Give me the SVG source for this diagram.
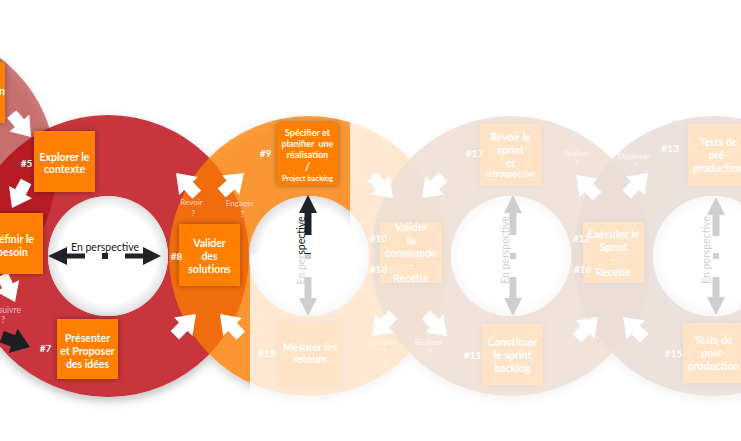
<svg xmlns="http://www.w3.org/2000/svg" xmlns:xlink="http://www.w3.org/1999/xlink" width="741" height="441" viewBox="0 0 741 441">
<defs>
<style>
.box{fill:#ff8000;filter:url(#bs)}
.bt{font-family:Lato,"Open Sans",sans-serif;font-weight:700;fill:#fff;font-size:10.5px;text-anchor:middle}
.num{font-family:Lato,"Open Sans",sans-serif;font-weight:700;fill:#fff;font-size:10px;text-anchor:middle}
.q{font-family:Lato,"Open Sans",sans-serif;font-size:8px;fill:#fbd3d0;text-anchor:middle}
.persp{font-family:Lato,"Open Sans",sans-serif;font-size:10.5px;fill:#15171a;text-anchor:middle}
.wa{fill:#fff}
.ba{fill:#1c1e22}
.pa{fill:#1f2226}
.hole{fill:url(#hg)}
</style>
<filter id="bs" x="-30%" y="-30%" width="160%" height="160%">
<feDropShadow dx="0" dy="0" stdDeviation="3" flood-color="#000" flood-opacity="0.35"/>
</filter>
<filter id="rs" x="-20%" y="-20%" width="140%" height="140%">
<feDropShadow dx="0" dy="4" stdDeviation="5" flood-color="#000" flood-opacity="0.25"/>
</filter>
<radialGradient id="hg" cx="50%" cy="50%" r="50%">
<stop offset="0" stop-color="#fff"/>
<stop offset="0.8" stop-color="#fff"/>
<stop offset="1" stop-color="#e0e0e0"/>
</radialGradient>
<path id="wa" d="M0,0 L-18,-13 L-18,-6 L-30,-6 L-30,6 L-18,6 L-18,13 Z"/>
</defs>

<g id="rings" filter="url(#rs)">
<path id="ring1" fill="#c8363c" fill-rule="evenodd" d="M-33,256 a141,141 0 1,0 282,0 a141,141 0 1,0 -282,0 Z M48,256 a60,60 0 1,1 120,0 a60,60 0 1,1 -120,0 Z"/>
<path id="ring0" fill="#a5000c" fill-opacity="0.5" fill-rule="evenodd" d="M-224,170 a140,140 0 1,0 280,0 a140,140 0 1,0 -280,0 Z M-144,170 a60,60 0 1,1 120,0 a60,60 0 1,1 -120,0 Z"/>
<path id="ring2" fill="#ff7f00" fill-opacity="0.75" fill-rule="evenodd" d="M169,256 a140,140 0 1,0 280,0 a140,140 0 1,0 -280,0 Z M249,256 a60,60 0 1,1 120,0 a60,60 0 1,1 -120,0 Z"/>
<path id="ring3" fill="rgb(180,110,60)" fill-opacity="0.85" fill-rule="evenodd" d="M371,256 a140,140 0 1,0 280,0 a140,140 0 1,0 -280,0 Z M451,256 a60,60 0 1,1 120,0 a60,60 0 1,1 -120,0 Z"/>
<path id="ring4" fill="rgb(160,100,75)" fill-opacity="0.85" fill-rule="evenodd" d="M573,256 a140,140 0 1,0 280,0 a140,140 0 1,0 -280,0 Z M653,256 a60,60 0 1,1 120,0 a60,60 0 1,1 -120,0 Z"/>
</g>
<g id="holes">
<circle class="hole" cx="108" cy="256" r="60"/>
<circle class="hole" cx="309" cy="256" r="60"/>
<circle class="hole" cx="511" cy="256" r="60"/>
<circle class="hole" cx="713" cy="256" r="60"/>
</g>

<g id="connectors">
<use href="#wa" class="wa" transform="translate(31,137) rotate(50)"/>
<use href="#wa" class="wa" transform="translate(12,208) rotate(118)"/>
<use href="#wa" class="wa" transform="translate(15,302) rotate(65)"/>
<use href="#wa" class="ba" transform="translate(30,347) rotate(20)"/>
<use href="#wa" class="wa" transform="translate(176,173) rotate(-134)"/>
<use href="#wa" class="wa" transform="translate(244,173) rotate(-42)"/>
<use href="#wa" class="wa" transform="translate(196,314) rotate(-45)"/>
<use href="#wa" class="wa" transform="translate(220,314) rotate(-134)"/>
<use href="#wa" class="wa" transform="translate(393,198) rotate(45)"/>
<use href="#wa" class="wa" transform="translate(422,198) rotate(135)"/>
<use href="#wa" class="wa" transform="translate(372,336) rotate(135)"/>
<use href="#wa" class="wa" transform="translate(447,336) rotate(45)"/>
<use href="#wa" class="wa" transform="translate(576,175) rotate(-135)"/>
<use href="#wa" class="wa" transform="translate(648,173) rotate(-45)"/>
<use href="#wa" class="wa" transform="translate(598,317) rotate(-45)"/>
<use href="#wa" class="wa" transform="translate(623,317) rotate(-135)"/>
<g id="persp1" class="pa">
<polygon points="48,256 67,247 67,265"/>
<rect x="67" y="253.5" width="18" height="5"/>
<rect x="102" y="253" width="6" height="6"/>
<rect x="125" y="253.5" width="18" height="5"/>
<polygon points="161,256 143,247 143,265"/>
</g>
<g id="persp2" class="pa">
<polygon points="308,195 299,213 317,213"/>
<rect x="304.5" y="213" width="7" height="22"/>
<rect x="305" y="253" width="6" height="6"/>
<rect x="304.5" y="277" width="7" height="21"/>
<polygon points="308,316 299,298 317,298"/>
</g>
<g id="persp3" class="pa">
<polygon points="513,195 504,213 522,213"/>
<rect x="509.5" y="213" width="7" height="22"/>
<rect x="510" y="253" width="6" height="6"/>
<rect x="509.5" y="277" width="7" height="21"/>
<polygon points="513,316 504,298 522,298"/>
</g>
<g id="persp4" class="pa">
<polygon points="716,197 707,215 725,215"/>
<rect x="712.5" y="215" width="7" height="21"/>
<rect x="713" y="253" width="6" height="6"/>
<rect x="712.5" y="277" width="7" height="20"/>
<polygon points="716,315 707,297 725,297"/>
</g>
</g>

<g id="persp-labels">
<text class="persp" x="105" y="250.5">En perspective</text>
<text class="persp" x="305" y="250.5" transform="rotate(-90 305 250.5)">En perspective</text>
<text class="persp" x="509" y="250" transform="rotate(-90 509 250)">En perspective</text>
<text class="persp" x="710" y="250" transform="rotate(-90 710 250)">En perspective</text>
</g>

<g id="questions">
<text class="q" x="1" y="313" style="font-size:8.5px;fill:#f2b6d4">Poursuivre</text>
<text class="q" x="3" y="323" style="font-size:9px;fill:#f2b6d4">?</text>
<text class="q" x="191.5" y="205">Revoir</text><text class="q" x="193" y="216">?</text>
<text class="q" x="240" y="206">Engager</text><text class="q" x="242" y="217">?</text>
<text class="q" x="383" y="345">Délivrer</text><text class="q" x="384" y="355">?</text>
<text class="q" x="428.5" y="345">Réaliser</text><text class="q" x="430" y="355">?</text>
<text class="q" x="577" y="156">Réaliser</text><text class="q" x="577" y="166">?</text>
<text class="q" x="634" y="159">Déployer</text><text class="q" x="636" y="169">?</text>
</g>

<g id="node-prev">
<rect class="box" x="-56" y="62" width="61" height="61"/>
<text class="bt" x="-1" y="95" style="text-anchor:start">n</text>
</g>
<g id="node-5">
<rect class="box" x="34" y="131" width="61" height="61"/>
<text class="bt" x="64.5"><tspan x="64.5" y="160.5">Explorer le</tspan><tspan x="64.5" y="173">contexte</tspan></text>
<text class="num" x="26.5" y="166.5">#5</text>
</g>
<g id="node-6">
<rect class="box" x="-18" y="213" width="61" height="61"/>
<text class="bt"><tspan x="12.5" y="242.5">Définir le</tspan><tspan x="12.5" y="255.5">besoin</tspan></text>
</g>
<g id="node-7">
<rect class="box" x="57" y="319" width="61" height="60"/>
<text class="bt"><tspan x="87.5" y="341.5">Présenter</tspan><tspan x="87.5" y="354.5">et Proposer</tspan><tspan x="87.5" y="367.5">des idées</tspan></text>
<text class="num" x="45.5" y="351.5">#7</text>
</g>
<g id="node-8">
<rect class="box" x="179" y="224" width="61" height="62"/>
<text class="bt"><tspan x="209.5" y="246.5">Valider</tspan><tspan x="209.5" y="259.5">des</tspan><tspan x="209.5" y="272.5">solutions</tspan></text>
<text class="num" x="176.5" y="259.5">#8</text>
</g>
<g id="node-9">
<rect class="box" x="277" y="123" width="61" height="62"/>
<text class="bt" style="font-size:9px"><tspan x="307.5" y="136">Spécifier et</tspan><tspan x="307.5" y="147" word-spacing="2">planifier une</tspan><tspan x="307.5" y="158">réalisation</tspan></text>
<text class="bt" x="307.5" y="171" style="font-size:11px">/</text>
<text class="bt" x="307.5" y="180.5" style="font-size:7.5px">Project backlog</text>
<text class="num" x="265.5" y="157">#9</text>
</g>
<g id="node-19">
<rect class="box" x="279" y="322" width="62" height="61"/>
<text class="bt"><tspan x="310" y="350.5">Mesurer les</tspan><tspan x="310" y="363">retours</tspan></text>
<text class="num" x="266.5" y="356.5">#19</text>
</g>
<g id="node-10">
<rect class="box" x="380" y="222" width="62" height="61"/>
<text class="bt"><tspan x="411" y="230.5">Valider</tspan><tspan x="411" y="243.5">la</tspan><tspan x="411" y="256.5">commande</tspan><tspan x="411" y="268.5">-</tspan><tspan x="411" y="281.5">Recette</tspan></text>
<text class="num" x="378.5" y="241.5">#10</text>
<text class="num" x="378.5" y="272.5">#18</text>
</g>
<g id="node-17">
<rect class="box" x="480" y="124" width="61" height="62"/>
<text class="bt"><tspan x="510.5" y="140.5">Revoir le</tspan><tspan x="510.5" y="153.5">sprint</tspan><tspan x="510.5" y="166.5">et</tspan></text>
<text class="bt" x="510.5" y="177" style="font-size:8.5px">rétrospective</text>
<text class="num" x="474.5" y="156.5">#17</text>
</g>
<g id="node-11">
<rect class="box" x="482" y="324" width="61" height="61"/>
<text class="bt"><tspan x="512.5" y="345.5">Constituer</tspan><tspan x="512.5" y="358.5">le sprint</tspan><tspan x="512.5" y="371.5">backlog</tspan></text>
<text class="num" x="472.5" y="358.5">#11</text>
</g>
<g id="node-12">
<rect class="box" x="583" y="222" width="61" height="61"/>
<text class="bt"><tspan x="613.5" y="237.5">Exécuter le</tspan><tspan x="613.5" y="250.5">Sprint</tspan><tspan x="613.5" y="263">-</tspan><tspan x="613.5" y="275.5">Recette</tspan></text>
<text class="num" x="581.5" y="241.5">#12</text>
<text class="num" x="582.5" y="272.5">#16</text>
</g>
<g id="node-13">
<rect class="box" x="688" y="124" width="61" height="62"/>
<text class="bt"><tspan x="718.5" y="145.5">Tests de</tspan><tspan x="718.5" y="158.5">pré-</tspan><tspan x="718.5" y="171.5">production</tspan></text>
<text class="num" x="670" y="151.5">#13</text>
</g>
<g id="node-15">
<rect class="box" x="683" y="323" width="61" height="60"/>
<text class="bt"><tspan x="713.5" y="343.5">Tests de</tspan><tspan x="713.5" y="356.5">post-</tspan><tspan x="713.5" y="369.5">production</tspan></text>
<text class="num" x="673.5" y="356.5">#15</text>
</g>

<path id="fade" fill="#fff" fill-opacity="0.78" d="M350,0 H741 V441 H250 V254 H350 Z"/>
</svg>
